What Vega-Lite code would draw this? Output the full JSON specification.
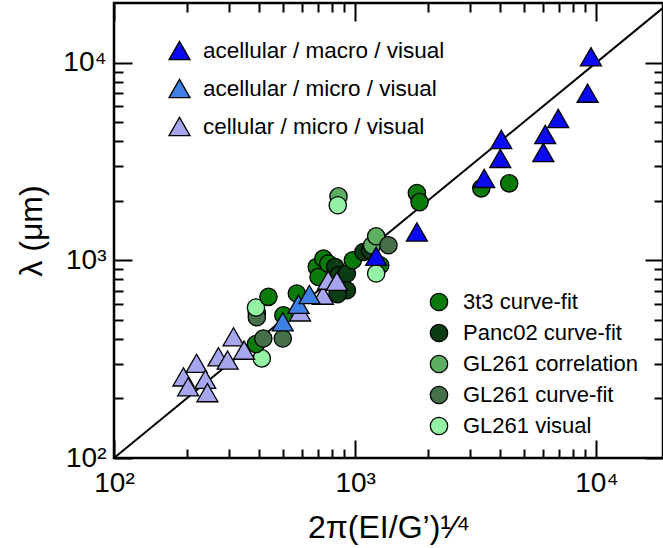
{
  "$schema": "https://vega.github.io/schema/vega-lite/v6.json",
  "width": 549,
  "height": 455,
  "autosize": {"type": "none"},
  "padding": {"left": 114, "top": 3, "right": 0, "bottom": 90},
  "background": "white",
  "config": {
    "view": {"stroke": "black", "strokeWidth": 2.5},
    "font": "Liberation Sans",
    "axis": {"grid": false, "domain": false, "tickColor": "black", "tickWidth": 2, "labelColor": "black", "titleColor": "black", "labelFont": "Liberation Sans", "titleFont": "Liberation Sans", "titleFontWeight": "normal"}
  },
  "datasets": {
    "fit": [{"x": 100, "y": 100}, {"x": 20000, "y": 20000}],
    "tri": [
      {"x": 194, "y": 257, "g": "cellular / micro / visual"},
      {"x": 203, "y": 229, "g": "cellular / micro / visual"},
      {"x": 220, "y": 301, "g": "cellular / micro / visual"},
      {"x": 239, "y": 250, "g": "cellular / micro / visual"},
      {"x": 244, "y": 214, "g": "cellular / micro / visual"},
      {"x": 271, "y": 325, "g": "cellular / micro / visual"},
      {"x": 296, "y": 313, "g": "cellular / micro / visual"},
      {"x": 313, "y": 410, "g": "cellular / micro / visual"},
      {"x": 346, "y": 351, "g": "cellular / micro / visual"},
      {"x": 591, "y": 548, "g": "cellular / micro / visual"},
      {"x": 735, "y": 666, "g": "cellular / micro / visual"},
      {"x": 773, "y": 793, "g": "cellular / micro / visual"},
      {"x": 840, "y": 783, "g": "cellular / micro / visual"},
      {"x": 501, "y": 488, "g": "acellular / micro / visual"},
      {"x": 582, "y": 599, "g": "acellular / micro / visual"},
      {"x": 646, "y": 671, "g": "acellular / micro / visual"},
      {"x": 1222, "y": 1048, "g": "acellular / macro / visual"},
      {"x": 1803, "y": 1390, "g": "acellular / macro / visual"},
      {"x": 3428, "y": 2594, "g": "acellular / macro / visual"},
      {"x": 3998, "y": 3273, "g": "acellular / macro / visual"},
      {"x": 4035, "y": 4083, "g": "acellular / macro / visual"},
      {"x": 6026, "y": 3508, "g": "acellular / macro / visual"},
      {"x": 6138, "y": 4326, "g": "acellular / macro / visual"},
      {"x": 6950, "y": 5212, "g": "acellular / macro / visual"},
      {"x": 9500, "y": 10700, "g": "acellular / macro / visual"},
      {"x": 9200, "y": 7000, "g": "acellular / macro / visual"}
    ],
    "circ": [
      {"x": 391, "y": 540, "g": "GL261 correlation"},
      {"x": 391, "y": 515, "g": "GL261 curve-fit"},
      {"x": 388, "y": 577, "g": "GL261 visual"},
      {"x": 437, "y": 653, "g": "3t3 curve-fit"},
      {"x": 410, "y": 319, "g": "GL261 visual"},
      {"x": 388, "y": 377, "g": "3t3 curve-fit"},
      {"x": 416, "y": 402, "g": "GL261 curve-fit"},
      {"x": 501, "y": 402, "g": "GL261 curve-fit"},
      {"x": 504, "y": 527, "g": "3t3 curve-fit"},
      {"x": 573, "y": 679, "g": "3t3 curve-fit"},
      {"x": 693, "y": 925, "g": "3t3 curve-fit"},
      {"x": 705, "y": 824, "g": "3t3 curve-fit"},
      {"x": 739, "y": 1020, "g": "3t3 curve-fit"},
      {"x": 774, "y": 962, "g": "3t3 curve-fit"},
      {"x": 826, "y": 925, "g": "Panc02 curve-fit"},
      {"x": 853, "y": 839, "g": "Panc02 curve-fit"},
      {"x": 924, "y": 857, "g": "Panc02 curve-fit"},
      {"x": 924, "y": 705, "g": "Panc02 curve-fit"},
      {"x": 845, "y": 673, "g": "Panc02 curve-fit"},
      {"x": 978, "y": 1000, "g": "3t3 curve-fit"},
      {"x": 1082, "y": 1101, "g": "Panc02 curve-fit"},
      {"x": 1153, "y": 1122, "g": "Panc02 curve-fit"},
      {"x": 1176, "y": 1191, "g": "GL261 correlation"},
      {"x": 1222, "y": 1322, "g": "GL261 correlation"},
      {"x": 1374, "y": 1191, "g": "GL261 curve-fit"},
      {"x": 1270, "y": 944, "g": "3t3 curve-fit"},
      {"x": 1222, "y": 857, "g": "GL261 visual"},
      {"x": 853, "y": 2104, "g": "GL261 correlation"},
      {"x": 847, "y": 1897, "g": "GL261 visual"},
      {"x": 1803, "y": 2188, "g": "3t3 curve-fit"},
      {"x": 1849, "y": 1968, "g": "3t3 curve-fit"},
      {"x": 3334, "y": 2310, "g": "3t3 curve-fit"},
      {"x": 4353, "y": 2449, "g": "3t3 curve-fit"}
    ]
  },
  "layer": [
    {
      "data": {"name": "fit"},
      "mark": {"type": "line", "color": "black", "strokeWidth": 2, "clip": true},
      "encoding": {
        "x": {
          "field": "x", "type": "quantitative",
          "scale": {"type": "log", "domain": [100, 18900], "nice": false},
          "axis": {
            "orient": "bottom",
            "values": [100, 200, 300, 400, 500, 600, 700, 800, 900, 1000, 2000, 3000, 4000, 5000, 6000, 7000, 8000, 9000, 10000],
            "tickSize": {"condition": {"test": "datum.value == 100 || datum.value == 1000 || datum.value == 10000", "value": -18}, "value": -9},
            "labelExpr": "datum.value == 100 ? '10²' : datum.value == 1000 ? '10³' : datum.value == 10000 ? '10⁴' : ''",
            "labelFontSize": 28, "labelPadding": 29, "labelDx": 4, "labelFlush": false, "labelOverlap": false,
            "title": "2π(EI/G’)¹⁄⁴", "titleFontSize": 32, "titlePadding": 6
          }
        },
        "y": {
          "field": "y", "type": "quantitative",
          "scale": {"type": "log", "domain": [100, 20000], "nice": false},
          "axis": {
            "orient": "left",
            "values": [100, 200, 300, 400, 500, 600, 700, 800, 900, 1000, 2000, 3000, 4000, 5000, 6000, 7000, 8000, 9000, 10000],
            "tickSize": {"condition": {"test": "datum.value == 100 || datum.value == 1000 || datum.value == 10000", "value": -18}, "value": -9},
            "labelExpr": "datum.value == 100 ? '10²' : datum.value == 1000 ? '10³' : datum.value == 10000 ? '10⁴' : ''",
            "labelFontSize": 28, "labelPadding": 26, "labelFlush": false, "labelOverlap": false,
            "title": "λ (μm)", "titleFontSize": 32, "titlePadding": 14
          }
        }
      }
    },
    {
      "data": {"name": "circ"},
      "mark": {"type": "point", "shape": "circle", "filled": true, "size": 300, "stroke": "black", "strokeWidth": 1.3, "opacity": 1},
      "encoding": {
        "x": {
          "field": "x", "type": "quantitative",
          "axis": {
            "orient": "top", "labels": false, "title": null,
            "values": [100, 200, 300, 400, 500, 600, 700, 800, 900, 1000, 2000, 3000, 4000, 5000, 6000, 7000, 8000, 9000, 10000],
            "tickSize": {"condition": {"test": "datum.value == 100 || datum.value == 1000 || datum.value == 10000", "value": -18}, "value": -9}
          }
        },
        "y": {
          "field": "y", "type": "quantitative",
          "axis": {
            "orient": "right", "labels": false, "title": null,
            "values": [100, 200, 300, 400, 500, 600, 700, 800, 900, 1000, 2000, 3000, 4000, 5000, 6000, 7000, 8000, 9000, 10000],
            "tickSize": {"condition": {"test": "datum.value == 100 || datum.value == 1000 || datum.value == 10000", "value": -18}, "value": -9}
          }
        },
        "fill": {
          "field": "g", "type": "nominal",
          "scale": {"domain": ["3t3 curve-fit", "Panc02 curve-fit", "GL261 correlation", "GL261 curve-fit", "GL261 visual"], "range": ["#0a7a0a", "#0b3d14", "#5eae62", "#46704a", "#93f2a3"]},
          "legend": {
            "orient": "none", "legendX": 314, "legendY": 288, "title": null,
            "symbolType": "circle", "symbolSize": 300, "symbolStrokeColor": "black", "symbolStrokeWidth": 1.3, "symbolOpacity": 1,
            "labelFontSize": 22, "labelColor": "black", "labelFont": "Liberation Sans", "labelLimit": 400, "rowPadding": 7, "labelOffset": 13
          }
        }
      }
    },
    {
      "data": {"name": "tri"},
      "mark": {"type": "point", "shape": "triangle-up", "filled": true, "size": 440, "stroke": "black", "strokeWidth": 1.3, "opacity": 1},
      "encoding": {
        "x": {"field": "x", "type": "quantitative", "axis": null},
        "y": {"field": "y", "type": "quantitative", "axis": null},
        "fill": {
          "field": "g", "type": "nominal",
          "scale": {"domain": ["acellular / macro / visual", "acellular / micro / visual", "cellular / micro / visual"], "range": ["#0a0af2", "#3f80e6", "#a6a6ee"]},
          "legend": {
            "orient": "none", "legendX": 54, "legendY": 36, "title": null,
            "symbolType": "triangle-up", "symbolSize": 440, "symbolStrokeColor": "black", "symbolStrokeWidth": 1.3, "symbolOpacity": 1,
            "labelFontSize": 22.5, "labelColor": "black", "labelFont": "Liberation Sans", "labelLimit": 400, "rowPadding": 13, "labelOffset": 12
          }
        }
      }
    }
  ],
  "resolve": {"scale": {"fill": "independent"}, "axis": {"x": "independent", "y": "independent"}}
}
